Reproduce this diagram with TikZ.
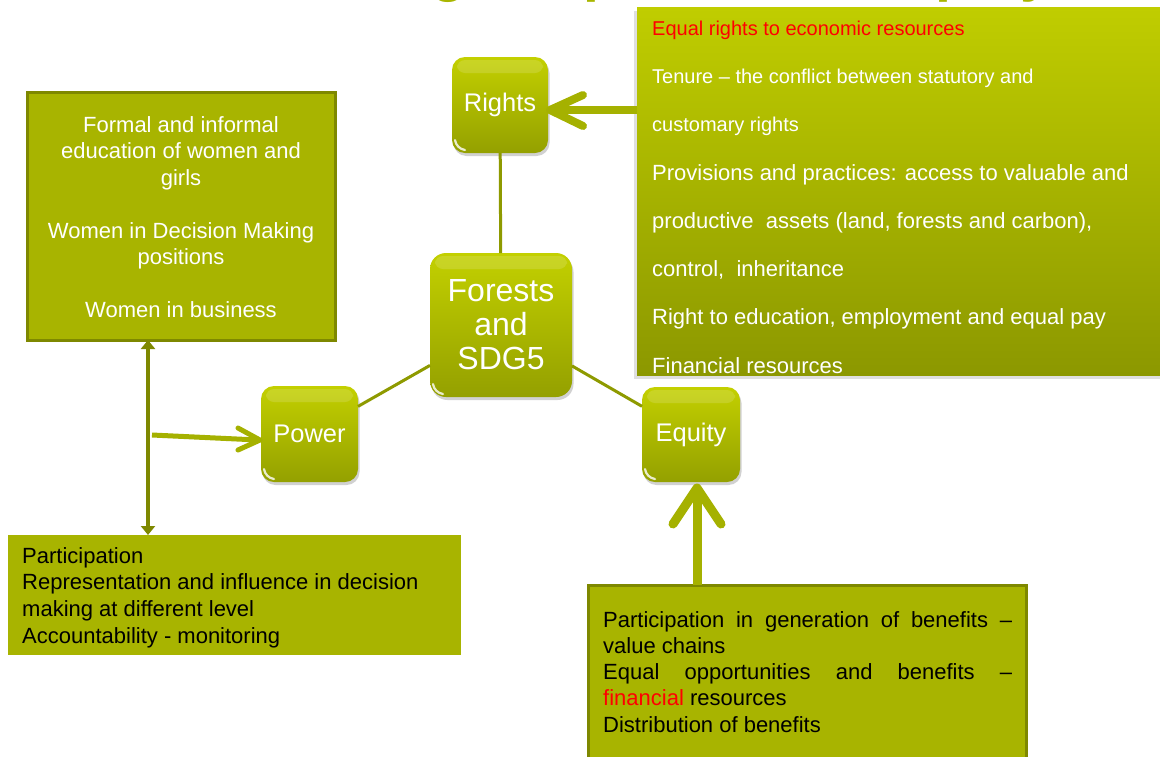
\documentclass[tikz,border=0pt]{standalone}
\usepackage{fontspec}
\setmainfont{Liberation Sans}
\usetikzlibrary{arrows.meta,shadows,calc}

\definecolor{lime}{HTML}{A8B400}
\definecolor{limetop}{HTML}{C3D000}
\definecolor{limebot}{HTML}{94A000}
\definecolor{paneltop}{HTML}{C0CD00}
\definecolor{panelbot}{HTML}{8C9800}
\definecolor{olive}{HTML}{7E8800}
\definecolor{linkcol}{HTML}{8E9A00}
\definecolor{arrowcol}{HTML}{A5B100}
\definecolor{titlecol}{HTML}{A9B600}
\definecolor{hotred}{HTML}{FF0000}

\tikzset{
  glossy/.style={rounded corners=13pt, top color=limetop, bottom color=limebot,
    text=white, inner sep=0pt, outer sep=0pt, align=center,
    drop shadow={shadow xshift=1.5pt, shadow yshift=-3pt, opacity=0.3, fill=black!60},
    path picture={
      \fill[white, opacity=0.14, rounded corners=8pt]
        ([xshift=5pt,yshift=-3pt]path picture bounding box.north west) rectangle
        ([xshift=-5pt,yshift=-16pt]path picture bounding box.north east);
      \draw[white, opacity=0.8, line width=2.2pt, line cap=round]
        ([xshift=3pt,yshift=13pt]path picture bounding box.south west) to[bend right=35]
        ([xshift=13pt,yshift=3pt]path picture bounding box.south west);
    }},
  rightpanel/.style={top color=paneltop, bottom color=panelbot, inner sep=0pt, outer sep=0pt,
    drop shadow={shadow xshift=-3pt, shadow yshift=-4pt, opacity=0.25, fill=black!50}},
  framedbox/.style={fill=lime, draw=olive, line width=3pt, inner sep=0pt, outer sep=0pt},
  plainbox/.style={fill=lime, inner sep=0pt, outer sep=0pt},
  link/.style={draw=linkcol, line width=3pt},
  shaft/.style={draw=arrowcol, line cap=butt},
  chevron/.style={draw=arrowcol, line cap=round, line join=round},
  dblarrow/.style={draw=olive, line width=4pt,
    {Triangle[length=9pt,width=14pt]}-{Triangle[length=9pt,width=14pt]}},
  bigtext/.style={font=\fontsize{25.5}{30}\selectfont},
}
\newcommand{\smallline}{\fontsize{20}{48.3}\selectfont}

\begin{document}
\begin{tikzpicture}[x=1pt,y=-1pt]
\useasboundingbox (0,0) rectangle (1160,756);
\begin{scope}
\clip (0,0) rectangle (1160,756);

% heading, running off the top edge
\node[anchor=base, inner sep=0pt, text=titlecol,
      font=\bfseries\fontsize{57}{60}\selectfont] (title) at (590,-10)
  {Women’s rights, power and equity};

% text panels
\node[rightpanel, anchor=north west, minimum width=560pt, minimum height=368pt]
  (rbox) at (637,7) {};
\node[framedbox, minimum width=308pt, minimum height=248pt] (lbox) at (181,216) {};
\node[plainbox, minimum width=453pt, minimum height=120pt] (blbox) at (234.5,595) {};
\node[framedbox, anchor=north west, minimum width=438pt, minimum height=200pt]
  (brbox) at (588,585) {};

% panel texts
\node[anchor=north west, inner sep=0pt, align=left, text=white,
      font=\fontsize{22}{48.3}\selectfont] (rtext) at (652,20.5)
  {{\smallline\color{hotred}Equal rights to economic resources}\\
   {\smallline Tenure – the conflict between statutory and}\\
   {\smallline customary rights}\\
   Provisions and practices: access to valuable and\\
   productive\ \ assets (land, forests and carbon),\\
   control,\ \ inheritance\\
   Right to education, employment and equal pay\\
   Financial resources};

\node[anchor=north, inner sep=0pt, align=center, text=white,
      font=\fontsize{22}{26.5}\selectfont] (ltext) at (181,116)
  {Formal and informal\\ education of women and\\ girls\\[26.5pt]
   Women in Decision Making\\ positions\\[26.5pt]
   Women in business};

\node[anchor=north west, inner sep=0pt, align=left, text=black,
      font=\fontsize{22}{26.7}\selectfont] (bltext) at (22,547)
  {Participation\\
   Representation and influence in decision\\
   making at different level\\
   Accountability - monitoring};

\node[anchor=north west, inner sep=0pt, text width=409pt, align=justify, text=black,
      font=\fontsize{22}{26.25}\selectfont] (brtext) at (603,611)
  {Participation in generation of benefits –\linebreak value chains\par
   Equal opportunities and benefits –\linebreak {\color{hotred}financial} resources\par
   Distribution of benefits};

% glossy topic squares
\node[glossy, bigtext, minimum width=96pt, minimum height=96pt] (rights) at (500,105) {Rights};
\node[glossy, font=\fontsize{32}{34}\selectfont, rounded corners=16pt,
      minimum width=142pt, minimum height=144pt] (forests) at (501,325) {Forests\\and\\SDG5};
\node[glossy, bigtext, minimum width=97pt, minimum height=96pt] (power) at (309.5,434) {Power};
\node[glossy, bigtext, minimum width=98pt, minimum height=95pt] (equity) at (691,434.5) {Equity};

% spokes from the centre
\draw[link] (rights) -- (forests);
\draw[link] (forests) -- (power);
\draw[link] (forests) -- (equity);

% panel -> Rights
\coordinate (rtip) at ($(rights.east)+(2,5)$);
\draw[shaft, line width=8pt] (rbox.west |- rtip) -- ($(rtip)+(4,0)$);
\draw[chevron, line width=8pt] ($(rtip)+(33,-15)$) -- (rtip) -- ($(rtip)+(33,16)$);

% two-way link between the left panels, branching to Power
\coordinate (vx) at (148,0);
\draw[dblarrow] (lbox.south -| vx) -- (blbox.north -| vx);
\coordinate (branch) at ($(vx |- power.west)+(4,1)$);
\coordinate (ptip) at ($(power.west)+(-1,6)$);
\draw[shaft, line width=5pt] (branch) -- ($(ptip)+(-2,0)$);
\draw[chevron, line width=5pt] ($(ptip)+(-22,-12)$) -- (ptip) -- ($(ptip)+(-22,10)$);

% lower panel -> Equity
\coordinate (etip) at ($(equity.south)+(6,6)$);
\draw[shaft, line width=9pt] (brbox.north -| etip) -- ($(etip)+(0,5)$);
\draw[chevron, line width=9pt] ($(etip)+(-24,36)$) -- (etip) -- ($(etip)+(24,36)$);

\end{scope}
\end{tikzpicture}
\end{document}
